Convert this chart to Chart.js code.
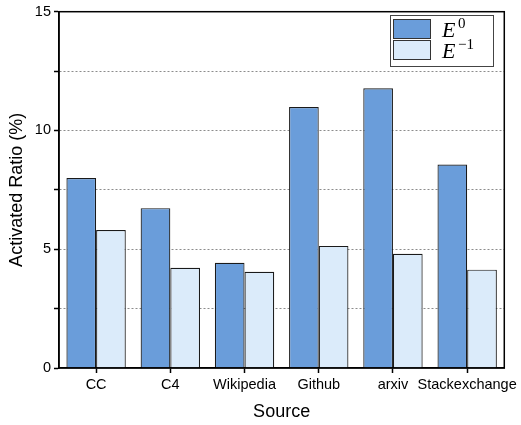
<!DOCTYPE html>
<html>
<head>
<meta charset="utf-8">
<script src="https://cdn.jsdelivr.net/npm/chart.js@4"></script>
<style>
  html, body { margin: 0; padding: 0; background: #fff; }
  #wrap { width: 521px; height: 425px; }
</style>
</head>
<body>
<div id="wrap"><canvas id="ratioChart" width="521" height="425"></canvas></div>
<script>
const sources = ["CC", "C4", "Wikipedia", "Github", "arxiv", "Stackexchange"];
const e0Values = [8.0, 6.73, 4.43, 10.99, 11.78, 8.57];
const eMinus1Values = [5.81, 4.22, 4.05, 5.14, 4.81, 4.14];
const legendSups = ["0", "\u22121"];
const yMax = 15;

const blue = "#6a9dda";
const lightBlue = "#dbebfa";

// full frame around the plot + legend with superscripts
const framePlugin = {
    id: "frame",
    afterDraw(chart) {
        const { ctx, chartArea: a } = chart;
        ctx.save();
        ctx.strokeStyle = "#000";
        ctx.lineWidth = 1.5;
        ctx.strokeRect(a.left, a.top, a.right - a.left, a.bottom - a.top);

        // legend box
        const bx = 390, by = 15, bw = 103, bh = 51;
        ctx.fillStyle = "#fff";
        ctx.fillRect(bx, by, bw, bh);
        ctx.strokeStyle = "#444";
        ctx.lineWidth = 1;
        ctx.strokeRect(bx + 0.5, by + 0.5, bw, bh);

        const colors = [blue, lightBlue];
        colors.forEach((c, i) => {
            const sy = by + 4.5 + i * 21;
            ctx.fillStyle = c;
            ctx.fillRect(393.5, sy, 37, 19);
            ctx.strokeStyle = "#333";
            ctx.strokeRect(393.5, sy, 37, 19);

            ctx.fillStyle = "#000";
            ctx.textBaseline = "alphabetic";
            ctx.font = "italic 22px 'Liberation Serif'";
            ctx.fillText("E", 442, sy + 17);
            ctx.font = "15px 'Liberation Serif'";
            ctx.fillText(legendSups[i], 458, sy + 8);
        });
        ctx.restore();
    }
};

new Chart(document.getElementById("ratioChart").getContext("2d"), {
    type: "bar",
    data: {
        labels: sources,
        datasets: [
            {
                label: "E0",
                data: e0Values,
                backgroundColor: blue,
                borderColor: "#1a1a1a",
                borderWidth: 1.2,
                categoryPercentage: 0.8,
                barPercentage: 1.0
            },
            {
                label: "E-1",
                data: eMinus1Values,
                backgroundColor: lightBlue,
                borderColor: "#1a1a1a",
                borderWidth: 1.2,
                categoryPercentage: 0.8,
                barPercentage: 1.0
            }
        ]
    },
    options: {
        responsive: false,
        animation: false,
        layout: { padding: { left: 6, top: 9, right: 15, bottom: 2 } },
        plugins: {
            legend: { display: false },
            tooltip: { enabled: false }
        },
        scales: {
            x: {
                afterFit: s => { s.height = 55; },
                grid: {
                    offset: false,
                    drawOnChartArea: false,
                    drawTicks: true,
                    tickLength: 5,
                    tickColor: "#000",
                    tickWidth: 1.5
                },
                border: { color: "#000", width: 1.5 },
                ticks: {
                    color: "#000",
                    padding: 3,
                    maxRotation: 0,
                    autoSkip: false,
                    font: { family: "'Liberation Sans', Arial", size: 14.5 }
                },
                title: {
                    display: true,
                    text: "Source",
                    color: "#000",
                    font: { family: "'Liberation Sans', Arial", size: 18 },
                    padding: 0
                }
            },
            y: {
                min: 0,
                max: yMax,
                afterFit: s => { s.width = 53; },
                grid: {
                    color: ctx => (ctx.tick && ctx.tick.value > 0 && ctx.tick.value < yMax) ? "#8c8c8c" : "rgba(0,0,0,0)",
                    lineWidth: 1,
                    drawTicks: true,
                    tickLength: 5,
                    tickColor: "#000",
                    tickWidth: 1.5
                },
                border: { color: "#000", width: 1.5, dash: [2, 2] },
                ticks: {
                    stepSize: 2.5,
                    color: "#000",
                    padding: 3,
                    font: { family: "'Liberation Sans', Arial", size: 14.5 },
                    callback: v => (v % 5 === 0 ? v : "")
                },
                title: {
                    display: true,
                    text: "Activated Ratio (%)",
                    color: "#000",
                    font: { family: "'Liberation Sans', Arial", size: 18 },
                    padding: 0
                }
            }
        }
    },
    plugins: [framePlugin]
});
</script>
</body>
</html>
